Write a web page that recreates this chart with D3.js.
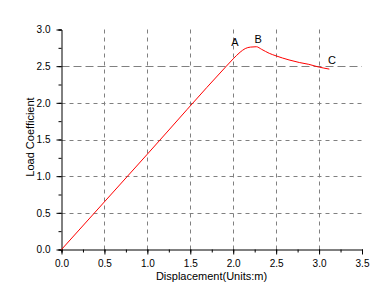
<!DOCTYPE html>
<html>
<head>
<meta charset="utf-8">
<script src="https://cdn.jsdelivr.net/npm/d3@7"></script>
<style>
  body { margin: 0; background: #fff; }
  svg { display: block; font-family: Arial, "Liberation Sans", sans-serif; }
</style>
</head>
<body>
<svg id="chart" width="392" height="304"></svg>
<script>
// curve
var displacement = [0, 1.0, 1.92, 2.0, 2.08, 2.14, 2.2, 2.27, 2.33, 2.42, 2.5, 2.65, 2.77, 2.88, 2.99, 3.12];
var loadCoef     = [0, 1.3, 2.5, 2.6, 2.69, 2.74, 2.76, 2.765, 2.73, 2.675, 2.64, 2.585, 2.55, 2.525, 2.49, 2.46];

var xTicks = [0, 0.5, 1.0, 1.5, 2.0, 2.5, 3.0, 3.5];
var yTicks = [0, 0.5, 1.0, 1.5, 2.0, 2.5, 3.0];
var refLine = 2.5;

// point labels (data coords of text center)
var labelNames = ["A", "B", "C"];
var labelX = [2.02, 2.29, 3.15];
var labelY = [2.83, 2.87, 2.58];

var svg = d3.select("#chart");
var x = d3.scaleLinear().domain([0, 3.5]).range([61.5, 362]);
var y = d3.scaleLinear().domain([0, 3]).range([249.5, 29.5]);

// grid
var grid = svg.append("g").attr("stroke", "#808080").attr("stroke-width", 1)
  .attr("stroke-dasharray", "4,4");
grid.selectAll("line.v").data(xTicks.filter(function (d) { return d > 0 && d < 3.5; }))
  .enter().append("line")
  .attr("x1", function (d) { return Math.round(x(d)) + 0.5; })
  .attr("x2", function (d) { return Math.round(x(d)) + 0.5; })
  .attr("y1", y(3)).attr("y2", y(0));
grid.selectAll("line.h").data(yTicks.filter(function (d) { return d > 0 && d < 3 && d != refLine; }))
  .enter().append("line")
  .attr("y1", function (d) { return Math.round(y(d)) + 0.5; })
  .attr("y2", function (d) { return Math.round(y(d)) + 0.5; })
  .attr("x1", x(0)).attr("x2", x(3.5));

// reference line at 2.5, longer dashes
svg.append("line")
  .attr("x1", x(0)).attr("x2", x(3.5))
  .attr("y1", Math.round(y(refLine)) + 0.5).attr("y2", Math.round(y(refLine)) + 0.5)
  .attr("stroke", "#808080").attr("stroke-dasharray", "8,4");

// axes
var minorX = d3.range(0, 3.51, 0.25);
var minorY = d3.range(0, 3.01, 0.25);
var tickFont = function (g) {
  g.select(".domain").remove();
  g.selectAll("text").attr("font-size", 10).attr("font-family", "Arial, 'Liberation Sans', sans-serif");
};
svg.append("g").attr("transform", "translate(0,249.5)")
  .call(d3.axisBottom(x).tickValues(minorX).tickSize(3).tickFormat(""));
svg.append("g").attr("transform", "translate(0,249.5)")
  .call(d3.axisBottom(x).tickValues(xTicks).tickSize(5).tickPadding(5).tickFormat(d3.format(".1f")))
  .call(tickFont);

svg.append("g").attr("transform", "translate(61.5,0)")
  .call(d3.axisLeft(y).tickValues(minorY).tickSize(3).tickFormat(""));
svg.append("g").attr("transform", "translate(61.5,0)")
  .call(d3.axisLeft(y).tickValues(yTicks).tickSize(5).tickPadding(6).tickFormat(d3.format(".1f")))
  .call(tickFont);

// titles
svg.append("text").attr("x", 211.5).attr("y", 280).attr("text-anchor", "middle")
  .attr("font-size", 11).text("Displacement(Units:m)");
svg.append("text").attr("transform", "translate(34,137) rotate(-90)").attr("text-anchor", "middle")
  .attr("font-size", 11).text("Load Coefficient");

// curve
var pts = displacement.map(function (d, i) { return [d, loadCoef[i]]; });
svg.append("path").datum(pts)
  .attr("fill", "none").attr("stroke", "#ff0000").attr("stroke-width", 1)
  .attr("d", d3.line().x(function (d) { return x(d[0]); }).y(function (d) { return y(d[1]); }).curve(d3.curveMonotoneX));

// labels
svg.selectAll("text.lbl").data(labelNames).enter().append("text")
  .attr("class", "lbl")
  .attr("x", function (d, i) { return x(labelX[i]); })
  .attr("y", function (d, i) { return y(labelY[i]) + 4; })
  .attr("text-anchor", "middle").attr("font-size", 11)
  .text(function (d) { return d; });
</script>
</body>
</html>
